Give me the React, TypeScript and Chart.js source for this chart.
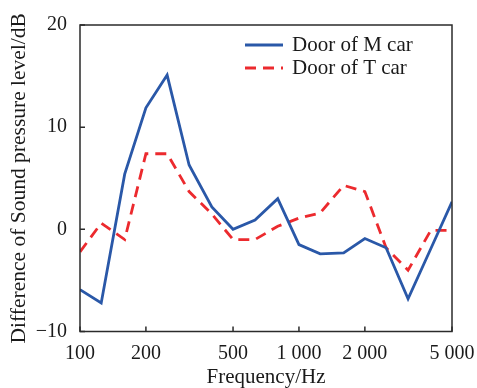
import React, { useEffect, useRef } from 'react';
import { Chart, registerables } from 'chart.js';

Chart.register(...registerables);

const frequencies = [100, 125, 160, 200, 250, 315, 400, 500, 630, 800, 1000, 1250, 1600, 2000, 2500, 3150, 4000, 5000];
const doorM = [-5.9, -7.2, 5.4, 11.9, 15.1, 6.3, 2.2, 0.0, 0.9, 3.0, -1.5, -2.4, -2.3, -0.9, -1.8, -6.8, -1.9, 2.7];
const doorT = [-2.2, 0.6, -1.0, 7.4, 7.4, 3.7, 1.5, -1.0, -1.0, 0.3, 1.1, 1.6, 4.3, 3.7, -1.8, -4.0, -0.1, -0.1];
const xTicks = [100, 200, 500, 1000, 2000, 5000];
const yTicks = [-10, 0, 10, 20];
const seriesNames = ['Door of M car', 'Door of T car'];

const FONT = '"Liberation Serif", "Times New Roman", serif';
const AXIS_COLOR = '#2b2b2b';
const TEXT_COLOR = '#1a1a1a';

function fmtThousands(v: number): string {
  const s = String(Math.round(v));
  return s.replace(/\B(?=(\d{3})+(?!\d))/g, ' ');
}

const framePlugin = {
  id: 'frameAndLegend',
  afterDraw(chart: any) {
    const { ctx, chartArea, scales } = chart;
    const { left, right, top, bottom } = chartArea;
    ctx.save();
    // frame
    ctx.strokeStyle = AXIS_COLOR;
    ctx.lineWidth = 1.5;
    ctx.setLineDash([]);
    ctx.strokeRect(left, top, right - left, bottom - top);
    // inward ticks
    const tl = 5;
    ctx.beginPath();
    for (const v of xTicks) {
      const x = scales.x.getPixelForValue(v);
      ctx.moveTo(x, bottom);
      ctx.lineTo(x, bottom - tl);
    }
    for (const v of yTicks) {
      const y = scales.y.getPixelForValue(v);
      ctx.moveTo(left, y);
      ctx.lineTo(left + tl, y);
    }
    ctx.stroke();
    // legend
    const rows = [top + 20, top + 43];
    chart.data.datasets.forEach((ds: any, i: number) => {
      const y = rows[i];
      ctx.beginPath();
      ctx.strokeStyle = ds.borderColor;
      ctx.lineWidth = ds.borderWidth;
      ctx.setLineDash(ds.borderDash || []);
      ctx.moveTo(left + 165, y);
      ctx.lineTo(left + 203, y);
      ctx.stroke();
      ctx.setLineDash([]);
      ctx.fillStyle = TEXT_COLOR;
      ctx.font = `21px ${FONT}`;
      ctx.textBaseline = 'middle';
      ctx.textAlign = 'left';
      ctx.fillText(ds.label, left + 212, y);
    });
    ctx.restore();
  },
};

export default function App() {
  const canvasRef = useRef<HTMLCanvasElement | null>(null);

  useEffect(() => {
    const canvas = canvasRef.current;
    if (!canvas) return;
    const chart = new Chart(canvas, {
      type: 'line',
      data: {
        labels: frequencies,
        datasets: [
          {
            label: seriesNames[0],
            data: frequencies.map((f, i) => ({ x: f, y: doorM[i] })),
            borderColor: '#2a58a8',
            borderWidth: 2.8,
            pointRadius: 0,
            tension: 0,
            fill: false,
          },
          {
            label: seriesNames[1],
            data: frequencies.map((f, i) => ({ x: f, y: doorT[i] })),
            borderColor: '#ec2a2e',
            borderWidth: 2.8,
            borderDash: [11, 7],
            pointRadius: 0,
            tension: 0,
            fill: false,
          },
        ],
      },
      options: {
        animation: false,
        responsive: false,
        maintainAspectRatio: false,
        layout: { padding: { left: 0, right: 25, top: 25, bottom: 0 } },
        plugins: {
          legend: { display: false },
          tooltip: { enabled: false },
        },
        scales: {
          x: {
            type: 'logarithmic',
            min: 100,
            max: 5000,
            afterBuildTicks: (scale: any) => {
              scale.ticks = xTicks.map((v) => ({ value: v }));
            },
            afterFit: (scale: any) => {
              scale.height = 56.5;
              scale.paddingLeft = 0;
              scale.paddingRight = 0;
            },
            grid: { display: false, drawTicks: false },
            border: { display: false },
            ticks: {
              autoSkip: false,
              maxRotation: 0,
              padding: 10,
              color: TEXT_COLOR,
              font: { family: FONT, size: 20 },
              callback: (v: any) => fmtThousands(Number(v)),
            },
            title: {
              display: true,
              text: 'Frequency/Hz',
              color: TEXT_COLOR,
              font: { family: FONT, size: 21 },
              padding: { top: 0, bottom: -2 },
            },
          },
          y: {
            type: 'linear',
            min: -10,
            max: 20,
            afterBuildTicks: (scale: any) => {
              scale.ticks = yTicks.map((v) => ({ value: v }));
            },
            afterFit: (scale: any) => {
              scale.width = 80;
              scale.paddingTop = 0;
              scale.paddingBottom = 0;
            },
            grid: { display: false, drawTicks: false },
            border: { display: false },
            ticks: {
              padding: 13,
              color: TEXT_COLOR,
              font: { family: FONT, size: 20 },
              callback: (v: any) => (Number(v) < 0 ? '\u2212' + Math.abs(Number(v)) : String(v)),
            },
            title: {
              display: true,
              text: 'Difference of Sound pressure level/dB',
              color: TEXT_COLOR,
              font: { family: FONT, size: 21.5 },
              padding: { top: 6, bottom: 0 },
            },
          },
        },
      },
      plugins: [framePlugin],
    });
    return () => chart.destroy();
  }, []);

  return (
    <div style={{ position: 'fixed', left: 0, top: 0, width: 477, height: 388, background: '#fff' }}>
      <canvas ref={canvasRef} width={477} height={388} style={{ width: 477, height: 388, display: 'block' }} />
    </div>
  );
}
